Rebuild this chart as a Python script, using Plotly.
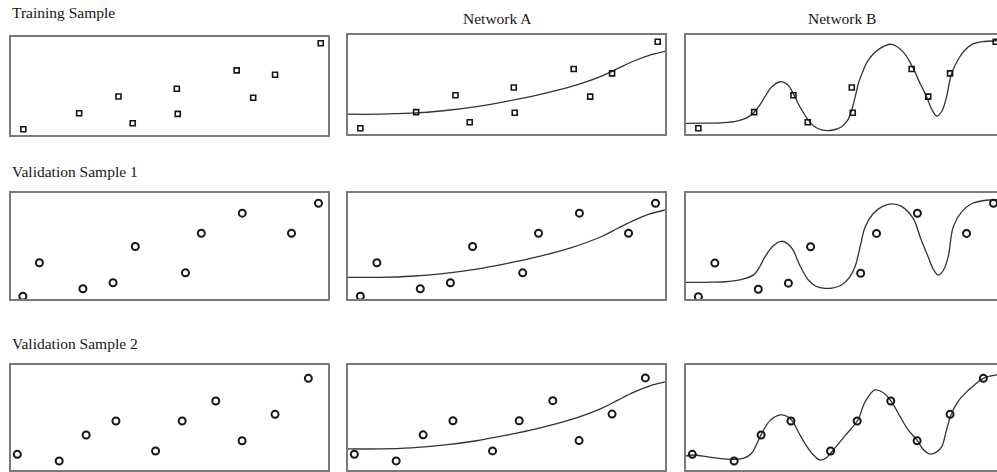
import plotly.graph_objects as go

# ---- data (x and y on a 0-10 scale inside each panel) ----
train_x = [0.39, 2.15, 3.39, 3.84, 5.23, 5.26, 7.12, 7.64, 8.33, 9.77]
train_y = [0.58, 2.21, 3.91, 1.19, 4.69, 2.14, 6.56, 3.78, 6.12, 9.32]

val1_x = [0.39, 0.91, 2.28, 3.23, 3.93, 5.51, 6.01, 7.30, 8.85, 9.70]
val1_y = [0.22, 3.37, 0.92, 1.49, 4.91, 2.42, 6.16, 8.05, 6.16, 8.99]

val2_x = [0.20, 1.52, 2.37, 3.31, 4.56, 5.40, 6.46, 7.29, 8.33, 9.38]
val2_y = [1.49, 0.86, 3.33, 4.67, 1.81, 4.67, 6.57, 2.79, 5.30, 8.73]

# Network A: smooth, low-complexity fit
net_a_x = [0, 1.0, 2.0, 3.0, 4.0, 5.0, 6.0, 7.0, 8.0, 8.5, 9.0, 9.5, 10]
net_a_y = [2.0, 2.0, 2.1, 2.35, 2.75, 3.3, 3.95, 4.75, 5.85, 6.6, 7.35, 7.95, 8.35]

# Network B: over-fitted, wiggly curve (as drawn in each row)
net_b1_x = [0, 0.6, 1.2, 1.6, 1.9, 2.12, 2.3, 2.49, 2.7, 2.97, 3.2, 3.38, 3.6,
            3.86, 4.05, 4.28, 4.6, 4.91, 5.1, 5.23, 5.34, 5.44, 5.6, 5.75, 6.1,
            6.49, 6.85, 7.14, 7.4, 7.59, 7.75, 7.91, 8.07, 8.22, 8.38, 8.6, 8.8,
            9.05, 9.33, 9.81]
net_b1_y = [1.08, 1.09, 1.14, 1.3, 1.6, 2.09, 2.8, 3.77, 4.75, 5.28, 5.0, 4.11, 2.7,
            1.41, 0.75, 0.42, 0.38, 0.74, 1.4, 2.42, 3.8, 5.12, 6.5, 7.47, 8.6,
            9.06, 8.3, 6.8, 5.0, 3.77, 2.5, 1.82, 2.3, 3.77, 6.13, 7.6, 8.48,
            9.1, 9.32, 9.42]

net_b2_x = [0, 0.6, 1.23, 1.7, 2.12, 2.3, 2.49, 2.75, 3.0, 3.2, 3.38, 3.6, 3.86,
            4.1, 4.38, 4.65, 4.91, 5.15, 5.33, 5.5, 5.65, 5.9, 6.2, 6.49, 6.8,
            7.17, 7.4, 7.64, 7.8, 7.96, 8.12, 8.27, 8.43, 8.7, 9.01, 9.4, 9.81]
net_b2_y = [1.56, 1.57, 1.62, 1.8, 2.24, 2.9, 3.95, 5.0, 5.42, 5.2, 4.58, 3.1, 1.78,
            1.2, 1.0, 1.05, 1.31, 2.0, 3.02, 5.0, 6.76, 8.0, 8.7, 8.94, 8.7,
            7.54, 5.7, 3.95, 2.8, 2.24, 2.7, 3.95, 6.76, 8.2, 8.94, 9.25, 9.32]

net_b3_x = [0, 0.23, 0.8, 1.55, 1.85, 2.07, 2.25, 2.39, 2.65, 2.97, 3.15, 3.33,
            3.55, 3.75, 4.0, 4.23, 4.42, 4.6, 5.0, 5.42, 5.65, 5.96, 6.2, 6.47,
            6.75, 7.01, 7.28, 7.5, 7.7, 7.9, 8.07, 8.2, 8.36, 8.55, 8.8, 9.1,
            9.38, 9.81]
net_b3_y = [1.33, 1.43, 1.2, 1.02, 1.15, 1.59, 2.6, 3.49, 4.7, 5.24, 5.15, 4.76,
            3.6, 2.54, 1.5, 0.95, 1.15, 1.74, 3.2, 4.76, 6.5, 7.62, 7.4, 6.57,
            5.1, 3.81, 2.86, 1.9, 1.52, 1.7, 2.22, 3.6, 5.24, 6.4, 7.3, 8.1,
            8.73, 9.05]

row_titles = ["Training Sample", "Validation Sample 1", "Validation Sample 2"]
col_titles = ["Network A", "Network B"]

# ---- layout geometry (pixels) ----
W, H = 997, 472
# (left, right, top, bottom) of each panel frame, row-major
panels = [
    (11, 328, 36.5, 135), (348, 665, 35, 134), (686, 1003, 35, 134),
    (10.5, 328, 192.5, 298.5), (348, 665, 192.5, 298.5), (686, 1003, 192.5, 299),
    (11, 328, 365, 470), (348, 665, 364.5, 470), (686, 1003, 365, 470),
]

INK = "#161616"
FRAME = "#7a7a7a"
SERIF = "Liberation Serif, Times New Roman, serif"

samples = [
    (train_x, train_y, "square-open", 5, 1.6),
    (val1_x, val1_y, "circle-open", 7, 2.0),
    (val2_x, val2_y, "circle-open", 7, 2.0),
]
net_b_curves = [(net_b1_x, net_b1_y), (net_b2_x, net_b2_y), (net_b3_x, net_b3_y)]

fig = go.Figure()
layout = {}

for idx, (l, r, t, b) in enumerate(panels):
    row, col = divmod(idx, 3)
    n = idx + 1
    xs = "" if n == 1 else str(n)
    xref, yref = "x" + xs, "y" + xs

    right = min(r, W)
    x_max = 10 * (right - l) / (r - l)
    layout["xaxis" + xs] = dict(
        domain=[l / W, right / W], range=[0, x_max], anchor=yref,
        showline=True, mirror=True, linecolor=FRAME, linewidth=2,
        showgrid=False, zeroline=False, showticklabels=False, ticks="",
        fixedrange=True,
    )
    layout["yaxis" + xs] = dict(
        domain=[1 - b / H, 1 - t / H], range=[0, 10], anchor=xref,
        showline=True, mirror=(r <= W), linecolor=FRAME, linewidth=2,
        showgrid=False, zeroline=False, showticklabels=False, ticks="",
        fixedrange=True,
    )

    sx, sy, sym, size, lw = samples[row]

    if col == 1:
        cx, cy = net_a_x, net_a_y
    elif col == 2:
        cx, cy = net_b_curves[row]
    else:
        cx = cy = None

    if cx is not None:
        fig.add_trace(go.Scatter(
            x=cx, y=cy, mode="lines", xaxis=xref, yaxis=yref,
            line=dict(color="#333333", width=1.3, shape="spline", smoothing=1.0),
            showlegend=False, hoverinfo="skip",
        ))

    fig.add_trace(go.Scatter(
        x=sx, y=sy, mode="markers", xaxis=xref, yaxis=yref, cliponaxis=False,
        marker=dict(symbol=sym, size=size, color=INK, line=dict(width=lw, color=INK)),
        showlegend=False, hoverinfo="skip",
    ))

# ---- titles ----
annotations = []
row_title_pos = [(10, 12.5), (10, 172), (10, 343)]
for text, (px, py) in zip(row_titles, row_title_pos):
    annotations.append(dict(
        text=text, x=px / W, y=1 - py / H, xref="paper", yref="paper",
        xanchor="left", yanchor="middle", showarrow=False,
        font=dict(family=SERIF, size=15.5, color=INK),
    ))
col_title_pos = [(497, 18), (842, 18)]
for text, (px, py) in zip(col_titles, col_title_pos):
    annotations.append(dict(
        text=text, x=px / W, y=1 - py / H, xref="paper", yref="paper",
        xanchor="center", yanchor="middle", showarrow=False,
        font=dict(family=SERIF, size=15.5, color=INK),
    ))

fig.update_layout(
    width=W, height=H,
    margin=dict(l=0, r=0, t=0, b=0),
    paper_bgcolor="white", plot_bgcolor="white",
    annotations=annotations,
    **layout,
)

fig.write_html("out.html", config={"displayModeBar": False})
